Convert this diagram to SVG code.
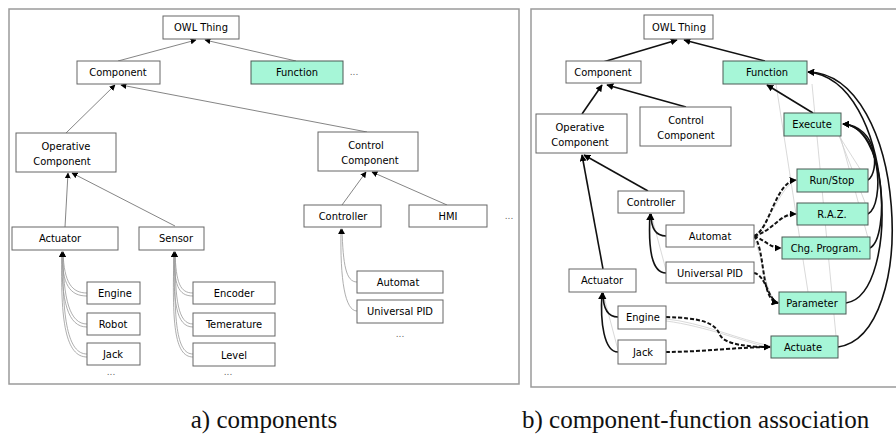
<svg xmlns="http://www.w3.org/2000/svg" width="896" height="441" viewBox="0 0 896 441">
<defs>
<marker id="ah" viewBox="0 0 10 10" refX="9" refY="5" markerWidth="6" markerHeight="6" orient="auto" markerUnits="userSpaceOnUse"><path d="M0,0 L10,5 L0,10 z" fill="#000"/></marker>
<marker id="ahb" viewBox="0 0 10 10" refX="9" refY="5" markerWidth="7" markerHeight="7" orient="auto" markerUnits="userSpaceOnUse"><path d="M0,0 L10,5 L0,10 z" fill="#000"/></marker>
<style>
.frame{fill:#fff;stroke:#9a9a9a;stroke-width:1.5}
.n{fill:#fff;stroke:#666;stroke-width:1}
.g{fill:#a6f6d7;stroke:#4a5a54;stroke-width:1}
.t{font-family:"DejaVu Sans Condensed","DejaVu Sans",sans-serif;font-stretch:condensed;font-size:11px;fill:#000;text-anchor:middle}
.dots{font-family:"DejaVu Sans",sans-serif;font-size:9px;fill:#666;text-anchor:middle}
.cap{font-family:"Liberation Serif","Times New Roman",serif;font-size:25px;fill:#111}
.l{fill:none;stroke:#777;stroke-width:0.9;marker-end:url(#ah)}
.lc{fill:none;stroke:#999;stroke-width:0.8;marker-end:url(#ah)}
.r{fill:none;stroke:#111;stroke-width:1.6;marker-end:url(#ahb)}
.d{fill:none;stroke:#111;stroke-width:2;stroke-dasharray:4,2;marker-end:url(#ahb)}
.f{fill:none;stroke:#cfcfcf;stroke-width:0.8}
</style>
</defs>
<rect class="frame" x="9" y="9" width="510" height="375"/>
<rect class="frame" x="531" y="9" width="372" height="378"/>

<g id="connectors">
<line class="l" x1="118" y1="61" x2="196" y2="40"/>
<line class="l" x1="296" y1="61" x2="205" y2="40"/>
<line class="l" x1="66" y1="133" x2="115" y2="85"/>
<line class="l" x1="367" y1="132" x2="121" y2="85"/>
<line class="l" x1="65" y1="227" x2="68" y2="173"/>
<line class="l" x1="175" y1="226" x2="72" y2="173"/>
<line class="l" x1="342" y1="205" x2="366" y2="172"/>
<line class="l" x1="447" y1="205" x2="372" y2="172"/>
<path class="lc" d="M87,293 C72,293 64,283 63,252"/>
<path class="lc" d="M87,296 C70,296 62,285 62,252"/>
<path class="lc" d="M87,324 C70,324 63,300 63,252"/>
<path class="lc" d="M87,327 C68,327 61,302 62,252"/>
<path class="lc" d="M87,354 C68,354 62,320 63,252"/>
<path class="lc" d="M87,357 C66,357 60,322 62,252"/>
<path class="lc" d="M193,293 C180,293 176,283 175,252"/>
<path class="lc" d="M193,296 C178,296 174,285 174,252"/>
<path class="lc" d="M193,324 C178,324 175,300 175,252"/>
<path class="lc" d="M193,327 C176,327 173,302 174,252"/>
<path class="lc" d="M193,354 C176,354 174,320 175,252"/>
<path class="lc" d="M193,357 C174,357 172,322 174,252"/>
<path class="lc" d="M357,282 C346,282 343,265 342,229"/>
<path class="lc" d="M357,311 C345,311 340,280 341,229"/>

<line class="f" x1="812" y1="84" x2="836" y2="336"/>
<line class="f" x1="776" y1="84" x2="808" y2="292"/>
<line class="f" x1="838" y1="128" x2="868" y2="238"/>
<line class="f" x1="836" y1="128" x2="866" y2="205"/>
<line class="f" x1="834" y1="128" x2="862" y2="172"/>
<line class="f" x1="767" y1="84" x2="812" y2="113"/>
<path class="f" d="M754,236 C770,225 780,185 797,180"/>
<path class="f" d="M754,238 C770,228 782,215 797,214"/>
<path class="f" d="M754,240 C762,250 765,300 779,303"/>
<path class="f" d="M666,319 C700,322 740,340 771,346"/>
<path class="f" d="M666,321 C705,326 745,342 771,348"/>
<line class="f" x1="651" y1="214" x2="666" y2="270"/>
<line class="f" x1="603" y1="293" x2="618" y2="350"/>

<line class="r" x1="603" y1="62" x2="677" y2="40"/>
<line class="r" x1="765" y1="61" x2="684" y2="40"/>
<line class="r" x1="582" y1="114" x2="602" y2="85"/>
<line class="r" x1="686" y1="107" x2="607" y2="85"/>
<line class="r" x1="648" y1="191" x2="584" y2="155"/>
<line class="r" x1="603" y1="269" x2="582" y2="155"/>
<line class="r" x1="813" y1="113" x2="767" y2="85"/>
<path class="r" d="M666,236 C655,236 651,228 651,214"/>
<path class="r" d="M666,273 C652,273 648,250 650,214"/>
<path class="r" d="M618,317 C606,317 603,306 603,293"/>
<path class="r" d="M618,352 C604,352 600,322 602,293"/>
<path class="r" d="M868,180 C880,172 878,126 843,124"/>
<path class="r" d="M868,214 C885,205 882,126 843,124"/>
<path class="r" d="M870,248 C890,238 886,126 843,124"/>
<path class="r" d="M846,303 C902,295 895,80 808,72"/>
<path class="r" d="M838,347 C920,335 908,74 808,72"/>

<path class="d" d="M754,236 C770,230 775,182 796,180"/>
<path class="d" d="M754,236 C775,230 778,214 796,214"/>
<path class="d" d="M754,236 C765,240 770,248 781,248"/>
<path class="d" d="M754,236 C766,250 760,300 778,303"/>
<path class="d" d="M754,273 C766,275 768,300 778,303"/>
<path class="d" d="M666,317 C700,318 715,322 720,335 C725,345 750,347 770,347"/>
<path class="d" d="M666,352 C700,352 740,347 770,347"/>
</g>

<g id="a-owl"><rect class="n" x="163" y="16" width="76" height="23"/><text class="t" x="201" y="31">OWL Thing</text></g>
<g id="a-component"><rect class="n" x="77" y="61" width="83" height="23"/><text class="t" x="118" y="76">Component</text></g>
<g id="a-function"><rect class="g" x="251" y="61" width="92" height="23"/><text class="t" x="297" y="76">Function</text><text class="dots" x="354" y="75">...</text></g>
<g id="a-operative"><rect class="n" x="16" y="133" width="100" height="39"/><text class="t" x="66" y="150">Operative</text><text class="t" x="62" y="165">Component</text></g>
<g id="a-control"><rect class="n" x="318" y="132" width="100" height="39"/><text class="t" x="366" y="149">Control</text><text class="t" x="370" y="164">Component</text></g>
<g id="a-actuator"><rect class="n" x="12" y="227" width="106" height="23"/><text class="t" x="60" y="242">Actuator</text></g>
<g id="a-sensor"><rect class="n" x="139" y="227" width="65" height="23"/><text class="t" x="176" y="242">Sensor</text></g>
<g id="a-engine"><rect class="n" x="87" y="282" width="53" height="22"/><text class="t" x="115" y="297">Engine</text></g>
<g id="a-robot"><rect class="n" x="87" y="313" width="53" height="22"/><text class="t" x="113" y="328">Robot</text></g>
<g id="a-jack"><rect class="n" x="87" y="343" width="53" height="22"/><text class="t" x="113" y="358">Jack</text><text class="dots" x="111" y="375">...</text></g>
<g id="a-encoder"><rect class="n" x="193" y="282" width="82" height="22"/><text class="t" x="234" y="297">Encoder</text></g>
<g id="a-temerature"><rect class="n" x="193" y="313" width="82" height="23"/><text class="t" x="234" y="328">Temerature</text></g>
<g id="a-level"><rect class="n" x="193" y="343" width="82" height="23"/><text class="t" x="234" y="359">Level</text><text class="dots" x="228" y="375">...</text></g>
<g id="a-controller"><rect class="n" x="304" y="205" width="77" height="22"/><text class="t" x="343" y="220">Controller</text></g>
<g id="a-hmi"><rect class="n" x="409" y="205" width="78" height="22"/><text class="t" x="448" y="220">HMI</text><text class="dots" x="509" y="219">...</text></g>
<g id="a-automat"><rect class="n" x="357" y="271" width="86" height="22"/><text class="t" x="398" y="286">Automat</text></g>
<g id="a-upid"><rect class="n" x="357" y="300" width="86" height="23"/><text class="t" x="400" y="315">Universal PID</text><text class="dots" x="400" y="337">...</text></g>

<g id="b-owl"><rect class="n" x="644" y="15" width="69" height="24"/><text class="t" x="679" y="31">OWL Thing</text></g>
<g id="b-component"><rect class="n" x="566" y="61" width="75" height="22"/><text class="t" x="603" y="76">Component</text></g>
<g id="b-function"><rect class="g" x="723" y="61" width="84" height="23"/><text class="t" x="767" y="76">Function</text></g>
<g id="b-operative"><rect class="n" x="536" y="114" width="91" height="39"/><text class="t" x="580" y="131">Operative</text><text class="t" x="580" y="146">Component</text></g>
<g id="b-control"><rect class="n" x="640" y="107" width="91" height="39"/><text class="t" x="686" y="124">Control</text><text class="t" x="686" y="139">Component</text></g>
<g id="b-controller"><rect class="n" x="618" y="191" width="66" height="22"/><text class="t" x="651" y="206">Controller</text></g>
<g id="b-automat"><rect class="n" x="666" y="225" width="88" height="22"/><text class="t" x="710" y="240">Automat</text></g>
<g id="b-upid"><rect class="n" x="666" y="262" width="88" height="21"/><text class="t" x="710" y="277">Universal PID</text></g>
<g id="b-actuator"><rect class="n" x="569" y="269" width="67" height="23"/><text class="t" x="602" y="284">Actuator</text></g>
<g id="b-engine"><rect class="n" x="618" y="306" width="48" height="23"/><text class="t" x="643" y="321">Engine</text></g>
<g id="b-jack"><rect class="n" x="618" y="340" width="48" height="24"/><text class="t" x="643" y="356">Jack</text></g>
<g id="b-execute"><rect class="g" x="784" y="113" width="57" height="23"/><text class="t" x="812" y="128">Execute</text></g>
<g id="b-runstop"><rect class="g" x="797" y="169" width="71" height="23"/><text class="t" x="832" y="184">Run/Stop</text></g>
<g id="b-raz"><rect class="g" x="797" y="203" width="71" height="22"/><text class="t" x="832" y="218">R.A.Z.</text></g>
<g id="b-chg"><rect class="g" x="782" y="237" width="88" height="22"/><text class="t" x="826" y="252">Chg. Program.</text></g>
<g id="b-parameter"><rect class="g" x="779" y="292" width="67" height="22"/><text class="t" x="812" y="307">Parameter</text></g>
<g id="b-actuate"><rect class="g" x="771" y="336" width="67" height="22"/><text class="t" x="803" y="351">Actuate</text></g>

<text class="cap" x="264" y="428" text-anchor="middle">a) components</text>
<text class="cap" x="522" y="428">b) component-function association</text>
</svg>
